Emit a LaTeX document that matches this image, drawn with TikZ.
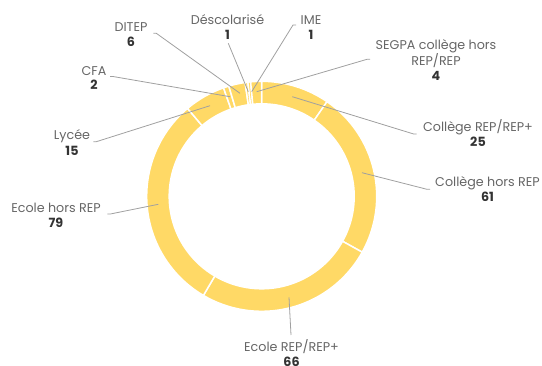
\documentclass[tikz,border=0pt]{standalone}
\usepackage{fontspec}
\setmainfont{Poppins}
\definecolor{ringcol}{HTML}{FFD966}
\definecolor{lblcol}{HTML}{666666}
\definecolor{numcol}{HTML}{333333}
\definecolor{conncol}{HTML}{A0A0A0}
\newcommand{\ringslice}[2]{%
  \pgfmathsetmacro{\angA}{90-#1*18/13}%
  \pgfmathsetmacro{\angB}{90-#2*18/13}%
  \fill[ringcol,draw=white,line width=1.5pt]
    (\angA:\Rout) arc[start angle=\angA, end angle=\angB, radius=\Rout]
    -- (\angB:\Rin) arc[start angle=\angB, end angle=\angA, radius=\Rin] -- cycle;}
\def\Rout{115}
\def\Rin{92.5}
\begin{document}
\begin{tikzpicture}[x=1pt,y=-1pt,
  nm/.style={anchor=base, text=lblcol, inner sep=0pt, font=\fontsize{12.7}{15}\selectfont},
  nb/.style={anchor=base, text=numcol, inner sep=0pt, font=\fontsize{12.7}{15}\selectfont\bfseries},
  connector/.style={draw=conncol, line width=0.8pt}]
\useasboundingbox (0,0) rectangle (542,365);

% ring
\begin{scope}[shift={(261.7,196.3)}, yscale=-1]
  \ringslice{0}{25}
  \ringslice{25}{86}
  \ringslice{86}{152}
  \ringslice{152}{231}
  \ringslice{231}{246}
  \ringslice{246}{248}
  \ringslice{248}{254}
  \ringslice{254}{255}
  \ringslice{255}{256}
  \ringslice{256}{260}
\end{scope}

% labels
\node[nm] (n-desc) at (227.5,24) {Déscolarisé};
\node[nb] (v-desc) at (227.5,39) {1};
\node[nm] (n-ime) at (311,24) {IME};
\node[nb] (v-ime) at (311,39) {1};
\node[nm] (n-ditep) at (131,31.5) {DITEP};
\node[nb] (v-ditep) at (131,46.5) {6};
\node[nm] (n-cfa) at (94,75) {CFA};
\node[nb] (v-cfa) at (94,89.5) {2};
\node[nm] (n-lyc) at (72,139.5) {Lycée};
\node[nb] (v-lyc) at (72,155) {15};
\node[nm] (n-ehr) at (56,212.5) {Ecole hors REP};
\node[nb] (v-ehr) at (56,227.5) {79};
\node[nm] (n-segpa1) at (436,49.5) {SEGPA collège hors};
\node[nm] (n-segpa2) at (436,65) {REP/REP};
\node[nb] (v-segpa) at (436,80) {4};
\node[nm] (n-crep) at (478,131.5) {Collège REP/REP+};
\node[nb] (v-crep) at (478,146.5) {25};
\node[nm] (n-chr) at (487.5,186.5) {Collège hors REP};
\node[nb] (v-chr) at (487.5,201.5) {61};
\node[nm] (n-erep) at (291.5,351.5) {Ecole REP/REP+};
\node[nb] (v-erep) at (291.5,366.5) {66};

% connector ends
\coordinate (l-ditep) at (153.3,33.3);
\coordinate (p-ditep) at (240,93.3);
\coordinate (l-cfa) at (110,76.5);
\coordinate (p-cfa) at (230,96.7);
\coordinate (l-lyc) at (93.3,141.7);
\coordinate (p-lyc) at (210,105.7);
\coordinate (l-ehr) at (107.3,214);
\coordinate (p-ehr) at (158.3,204.3);
\coordinate (l-desc) at (228.3,43.3);
\coordinate (p-desc) at (248.3,91.7);
\coordinate (l-ime) at (296,25);
\coordinate (p-ime) at (251.7,91.7);
\coordinate (l-segpa) at (370,59.3);
\coordinate (p-segpa) at (256.7,91.7);
\coordinate (l-crep) at (416.7,134);
\coordinate (p-crep) at (292.3,96.7);
\coordinate (l-chr) at (430,189.3);
\coordinate (p-chr) at (362,172.7);
\coordinate (l-erep) at (291,335);
\coordinate (p-erep) at (289,297.3);

\draw[connector] (l-ditep) -- ++(3,0) -- (p-ditep);
\draw[connector] (l-cfa) -- ++(3,0) -- (p-cfa);
\draw[connector] (l-lyc) -- ++(3,0) -- (p-lyc);
\draw[connector] (l-ehr) -- ++(3,0) -- (p-ehr);
\draw[connector] (l-desc) -- (p-desc);
\draw[connector] (l-ime) -- ++(-3,0) -- (p-ime);
\draw[connector] (l-segpa) -- ++(-3,0) -- (p-segpa);
\draw[connector] (l-crep) -- ++(-3,0) -- (p-crep);
\draw[connector] (l-chr) -- ++(-3,0) -- (p-chr);
\draw[connector] (l-erep) -- (p-erep);
\end{tikzpicture}
\end{document}
